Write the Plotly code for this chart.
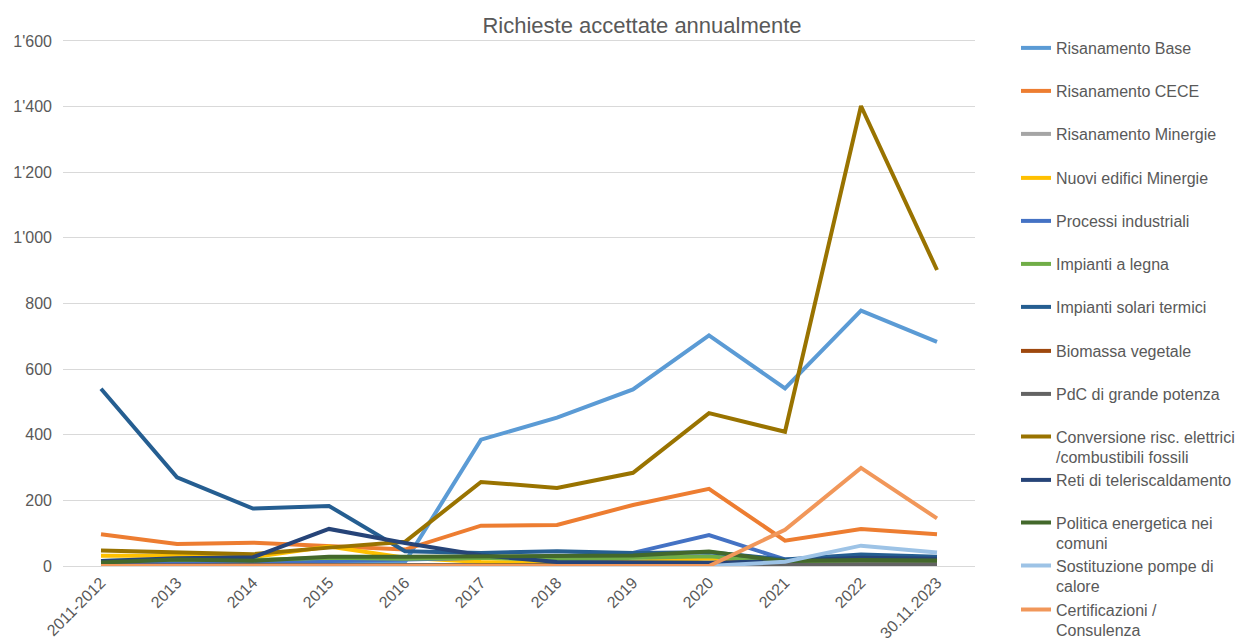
import plotly.graph_objects as go

categories = ["2011-2012", "2013", "2014", "2015", "2016", "2017", "2018",
              "2019", "2020", "2021", "2022", "30.11.2023"]

series_names = [
    "Risanamento Base",
    "Risanamento CECE",
    "Risanamento Minergie",
    "Nuovi edifici Minergie",
    "Processi industriali",
    "Impianti a legna",
    "Impianti solari termici",
    "Biomassa vegetale",
    "PdC di grande potenza",
    "Conversione risc. elettrici<br>/combustibili fossili",
    "Reti di teleriscaldamento",
    "Politica energetica nei<br>comuni",
    "Sostituzione pompe di<br>calore",
    "Certificazioni /<br>Consulenza",
]

risanamento_base = [5, 5, 8, 15, 12, 385, 452, 538, 703, 541, 778, 683]
risanamento_cece = [97, 67, 71, 60, 50, 123, 125, 186, 235, 77, 113, 97]
risanamento_minergie = [5, 4, 4, 3, 3, 3, 2, 2, 2, 2, 3, 3]
nuovi_edifici_minergie = [31, 31, 27, 59, 25, 12, 10, 13, 23, 10, 28, 15]
processi_industriali = [10, 12, 12, 15, 20, 25, 30, 40, 94, 20, 20, 15]
impianti_legna = [15, 20, 18, 25, 22, 25, 20, 25, 30, 12, 15, 15]
impianti_solari = [540, 270, 175, 183, 45, 40, 45, 40, 42, 20, 35, 28]
biomassa_vegetale = [1, 1, 1, 1, 1, 1, 1, 1, 1, 2, 2, 2]
pdc_grande_potenza = [0, 0, 0, 0, 0, 0, 0, 0, 2, 3, 5, 5]
conversione = [47, 41, 36, 56, 74, 256, 238, 284, 466, 409, 1402, 902]
reti_teleriscaldamento = [15, 24, 27, 113, 70, 33, 12, 10, 10, 15, 25, 22]
politica_energetica = [11, 20, 16, 28, 28, 30, 33, 32, 44, 15, 18, 17]
sostituzione_pdc = [0, 0, 0, 0, 0, 0, 0, 0, 0, 13, 62, 41]
certificazioni = [0, 0, 0, 0, 0, 0, 0, 0, 0, 110, 299, 145]

series_values = [
    risanamento_base, risanamento_cece, risanamento_minergie,
    nuovi_edifici_minergie, processi_industriali, impianti_legna,
    impianti_solari, biomassa_vegetale, pdc_grande_potenza, conversione,
    reti_teleriscaldamento, politica_energetica, sostituzione_pdc,
    certificazioni,
]

colors = ["#5B9BD5", "#ED7D31", "#A5A5A5", "#FFC000", "#4472C4", "#70AD47",
          "#255E91", "#9E480E", "#636363", "#997300", "#264478", "#43682B",
          "#9DC3E6", "#F1975A"]

# legend entry positions (pixel centre of first text line)
legend_rows = [48, 91, 134, 178, 221, 264, 307, 351, 394, 437, 480, 523, 566, 610]

W, H = 1241, 641
text_color = "#595959"
font_family = "Liberation Sans, Arial, sans-serif"

fig = go.Figure()
layout_legends = {}
for i, (name, vals, col) in enumerate(zip(series_names, series_values, colors)):
    key = "legend" if i == 0 else f"legend{i + 1}"
    fig.add_trace(go.Scatter(
        x=categories, y=vals, name=name, mode="lines",
        line=dict(color=col, width=4),
        legend=key,
        hovertemplate="%{x}: %{y}<extra>" + name.replace("<br>", " ") + "</extra>",
    ))
    multiline = "<br>" in name
    cy = legend_rows[i] + (10 if multiline else 0)
    layout_legends[key] = dict(
        xref="container", yref="container",
        x=1016 / W, y=1 - cy / H,
        xanchor="left", yanchor="middle",
        bgcolor="rgba(0,0,0,0)", borderwidth=0,
        valign="top",
        font=dict(family=font_family, size=16, color=text_color),
    )

fig.update_layout(
    width=W, height=H,
    paper_bgcolor="white", plot_bgcolor="white",
    margin=dict(l=63, r=266, t=41, b=75, autoexpand=False),
    title=dict(text="Richieste accettate annualmente",
               xref="container", yref="container",
               x=642 / W, xanchor="center", y=1 - 25 / H, yanchor="middle",
               font=dict(family=font_family, size=22, color=text_color)),
    font=dict(family=font_family, size=16, color=text_color),
    separators=".'",
    showlegend=True,
    xaxis=dict(
        type="category", range=[-0.5, len(categories) - 0.5],
        tickangle=-45, showgrid=False, showline=True, mirror=True,
        linecolor="#D9D9D9", linewidth=1, ticks="",
        tickfont=dict(size=16, color=text_color),
        automargin=False, fixedrange=True,
    ),
    yaxis=dict(
        range=[0, 1600], dtick=200, tickformat=",d",
        showgrid=True, gridcolor="#D9D9D9", gridwidth=1, zeroline=False,
        showline=False, ticks="", ticklabelstandoff=10,
        tickfont=dict(size=16, color=text_color),
        automargin=False, fixedrange=True,
    ),
    **layout_legends,
)

fig.write_html(
    "out.html",
    config={"displayModeBar": False},
    post_script="document.body.style.margin='0';document.body.style.overflow='hidden';",
)
